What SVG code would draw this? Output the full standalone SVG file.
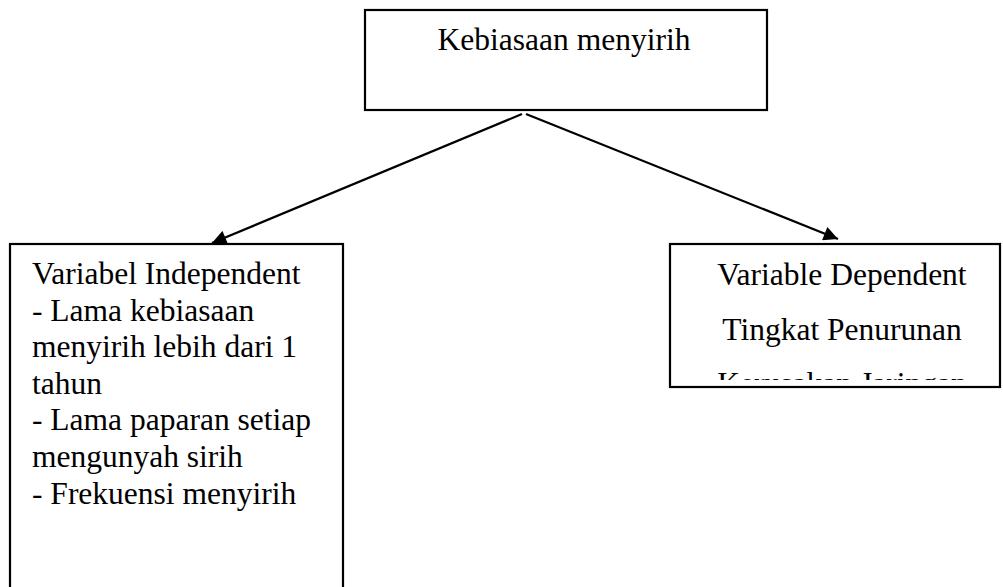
<svg xmlns="http://www.w3.org/2000/svg" width="1003" height="587" viewBox="0 0 1003 587">
<style>
.box{fill:#fff;stroke:#000;stroke-width:2.2}
.t{font-family:"Liberation Serif","Times New Roman",serif;font-size:31.5px;fill:#000}
.c{text-anchor:middle}
.ln{stroke:#000;stroke-width:2.2;fill:none}
</style>
<defs>
<marker id="ah" viewBox="0 0 10 10" refX="10" refY="5" markerWidth="7.5" markerHeight="6.5" markerUnits="strokeWidth" orient="auto">
<path d="M0,0 L10,5 L0,10 z" fill="#000"/>
</marker>
<clipPath id="rclip"><rect x="671" y="245" width="328" height="135"/></clipPath>
</defs>
<rect width="1003" height="587" fill="#fff"/>
<g id="connectors">
<line class="ln" x1="522" y1="114" x2="212" y2="243" marker-end="url(#ah)"/>
<line class="ln" x1="526" y1="114" x2="838" y2="239" marker-end="url(#ah)"/>
</g>
<g id="node-top">
<rect class="box" x="365" y="10" width="402" height="100"/>
<text class="t c" x="564" y="50">Kebiasaan menyirih</text>
</g>
<g id="node-left">
<rect class="box" x="10" y="244" width="333" height="360"/>
<text class="t" x="32" y="284">Variabel Independent</text>
<text class="t" x="32" y="320.6">- Lama kebiasaan</text>
<text class="t" x="32" y="357.2">menyirih lebih dari 1</text>
<text class="t" x="32" y="393.8">tahun</text>
<text class="t" x="32" y="430.4">- Lama paparan setiap</text>
<text class="t" x="32" y="467">mengunyah sirih</text>
<text class="t" x="32" y="503.6">- Frekuensi menyirih</text>
</g>
<g id="node-right">
<rect class="box" x="670" y="244" width="330" height="143"/>
<text class="t c" x="842" y="285">Variable Dependent</text>
<text class="t c" x="842" y="340">Tingkat Penurunan</text>
<text class="t c" x="842" y="394" clip-path="url(#rclip)">Kerusakan Jaringan</text>
</g>
</svg>
